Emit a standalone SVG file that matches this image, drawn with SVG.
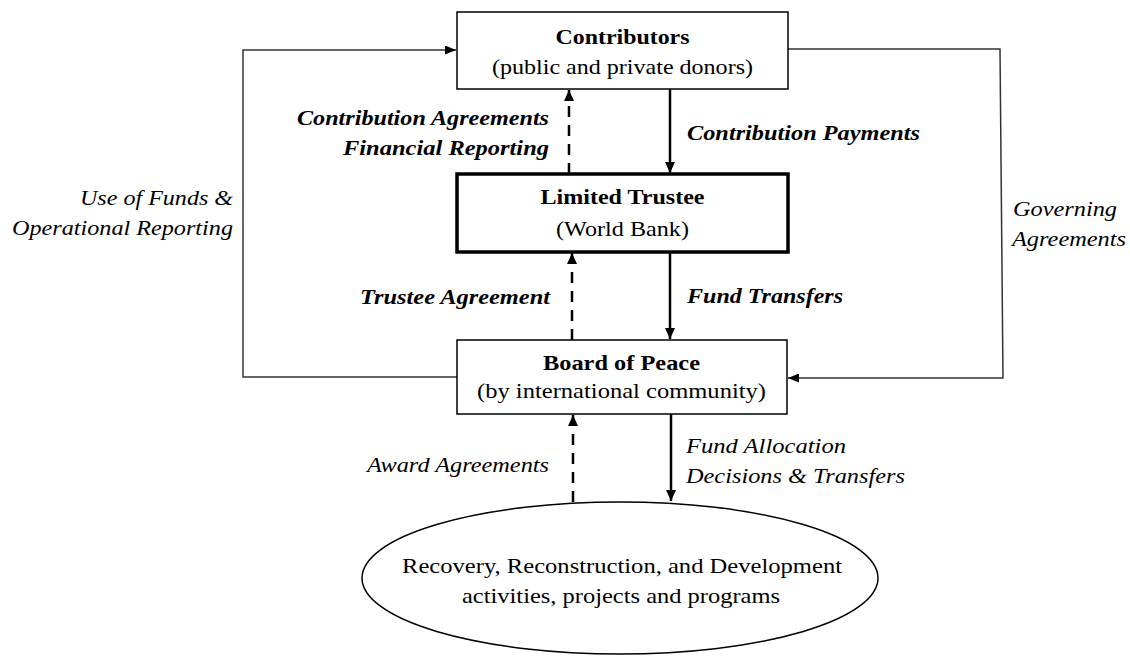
<svg xmlns="http://www.w3.org/2000/svg" width="1130" height="656" viewBox="0 0 1130 656">
<defs>
<style>
text{font-family:'Liberation Serif','Times New Roman',serif;font-size:22px;fill:#000}
.b{font-weight:bold}
.i{font-style:italic}
.bi{font-weight:bold;font-style:italic}
.m{text-anchor:middle}
.e{text-anchor:end}
.box{fill:#fff;stroke:#000;stroke-width:1.5}
.thick{fill:#fff;stroke:#000;stroke-width:3.5}
.solid{fill:none;stroke:#000;stroke-width:2.5}
.dash{fill:none;stroke:#000;stroke-width:2.5;stroke-dasharray:11 8}
.loop{fill:none;stroke:#333;stroke-width:1.5}
</style>
<marker id="ah" markerUnits="userSpaceOnUse" markerWidth="11" markerHeight="10" refX="11" refY="5" orient="auto">
<path d="M0,0 L11,5 L0,10 z" fill="#000"/>
</marker>
<marker id="ahs" markerUnits="userSpaceOnUse" markerWidth="11" markerHeight="9" refX="11" refY="4.5" orient="auto">
<path d="M0,0 L11,4.5 L0,9 z" fill="#000"/>
</marker>
</defs>
<rect width="1130" height="656" fill="#fff"/>

<g id="connectors">
<line class="dash" x1="569" y1="174" x2="569" y2="90" marker-end="url(#ah)"/>
<line class="solid" x1="670" y1="89" x2="670" y2="173" marker-end="url(#ah)"/>
<line class="dash" x1="572" y1="340" x2="572" y2="253" marker-end="url(#ah)"/>
<line class="solid" x1="670" y1="252" x2="670" y2="339" marker-end="url(#ah)"/>
<line class="dash" x1="573" y1="502" x2="573" y2="415" marker-end="url(#ah)"/>
<line class="solid" x1="671" y1="414" x2="671" y2="501" marker-end="url(#ah)"/>
<polyline class="loop" points="457,377 243,377 243,50 456,50" marker-end="url(#ahs)"/>
<polyline class="loop" points="788,49 1000,49 1003,378 788,378" marker-end="url(#ahs)"/>
</g>

<g id="contributors">
<rect class="box" x="457" y="12" width="331" height="77"/>
<text class="b m" x="622.5" y="44" textLength="134" lengthAdjust="spacingAndGlyphs">Contributors</text>
<text class="m" x="622.5" y="74" textLength="261" lengthAdjust="spacingAndGlyphs">(public and private donors)</text>
</g>

<g id="trustee">
<rect class="thick" x="457" y="174" width="331" height="78"/>
<text class="b m" x="622.5" y="204" textLength="164" lengthAdjust="spacingAndGlyphs">Limited Trustee</text>
<text class="m" x="622.5" y="236" textLength="133" lengthAdjust="spacingAndGlyphs">(World Bank)</text>
</g>

<g id="board">
<rect class="box" x="457" y="340" width="330" height="74"/>
<text class="b m" x="621.5" y="370" textLength="157" lengthAdjust="spacingAndGlyphs">Board of Peace</text>
<text class="m" x="621.5" y="398" textLength="289" lengthAdjust="spacingAndGlyphs">(by international community)</text>
</g>

<g id="activities">
<ellipse cx="620" cy="578" rx="258" ry="76" fill="#fff" stroke="#000" stroke-width="1.5"/>
<text class="m" x="622" y="573" textLength="440" lengthAdjust="spacingAndGlyphs">Recovery, Reconstruction, and Development</text>
<text class="m" x="621" y="603" textLength="318" lengthAdjust="spacingAndGlyphs">activities, projects and programs</text>
</g>

<g id="labels">
<text class="bi e" x="549" y="125" textLength="252" lengthAdjust="spacingAndGlyphs">Contribution Agreements</text>
<text class="bi e" x="549" y="155" textLength="206" lengthAdjust="spacingAndGlyphs">Financial Reporting</text>
<text class="bi" x="687" y="140" textLength="233" lengthAdjust="spacingAndGlyphs">Contribution Payments</text>
<text class="bi e" x="550" y="304" textLength="190" lengthAdjust="spacingAndGlyphs">Trustee Agreement</text>
<text class="bi" x="687" y="303" textLength="156" lengthAdjust="spacingAndGlyphs">Fund Transfers</text>
<text class="i e" x="233" y="205" textLength="153" lengthAdjust="spacingAndGlyphs">Use of Funds &amp;</text>
<text class="i e" x="233" y="235" textLength="221" lengthAdjust="spacingAndGlyphs">Operational Reporting</text>
<text class="i" x="1013" y="216" textLength="104" lengthAdjust="spacingAndGlyphs">Governing</text>
<text class="i" x="1012" y="246" textLength="114" lengthAdjust="spacingAndGlyphs">Agreements</text>
<text class="i e" x="549" y="472" textLength="182" lengthAdjust="spacingAndGlyphs">Award Agreements</text>
<text class="i" x="686" y="453" textLength="160" lengthAdjust="spacingAndGlyphs">Fund Allocation</text>
<text class="i" x="686" y="483" textLength="219" lengthAdjust="spacingAndGlyphs">Decisions &amp; Transfers</text>
</g>
</svg>
